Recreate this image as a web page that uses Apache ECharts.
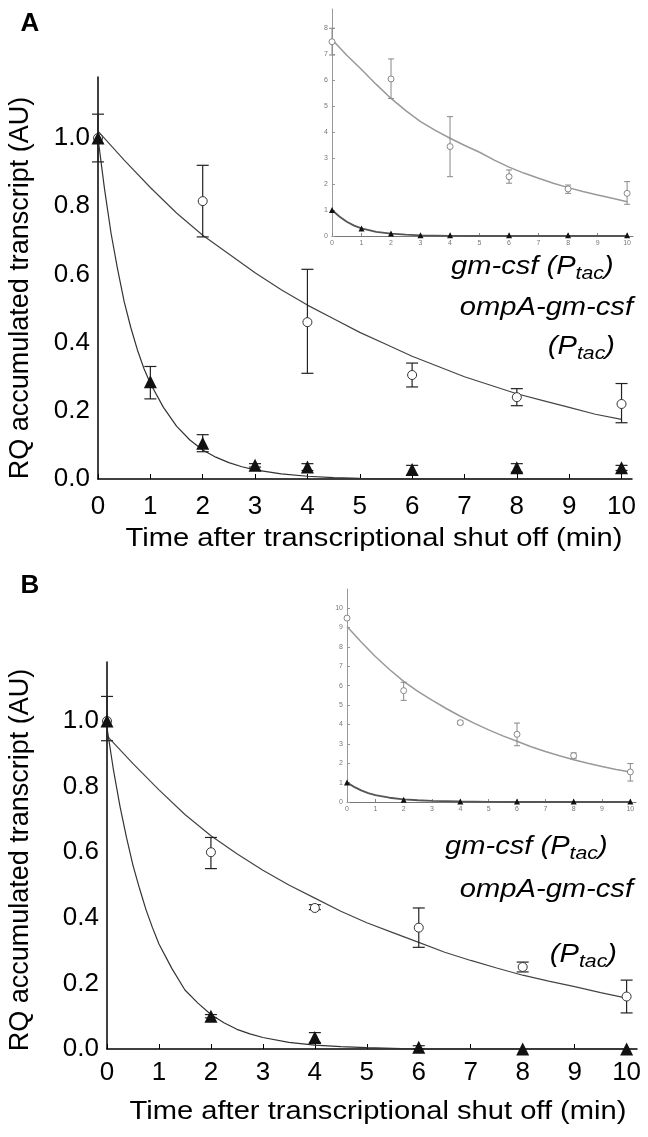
<!DOCTYPE html>
<html>
<head>
<meta charset="utf-8">
<script src="https://cdn.jsdelivr.net/npm/echarts@6/dist/echarts.min.js"></script>
<style>
html,body{margin:0;padding:0;background:#fff;}
#chart{width:648px;height:1137px;}
</style>
</head>
<body>
<div id="chart"></div>
<script>
// ---------- tick labels ----------
const xTicks = [0,1,2,3,4,5,6,7,8,9,10];
const yTicksMain = [0,0.2,0.4,0.6,0.8,1.0];
const yTicksInsetA = [0,1,2,3,4,5,6,7,8];
const yTicksInsetB = [0,1,2,3,4,5,6,7,8,9,10];

// ---------- Panel A, main ----------
const A_circT  = [0,2,4,6,8,10];
const A_circV  = [1.0,0.815,0.46,0.305,0.24,0.22];
const A_circLo = [0.93,0.71,0.31,0.27,0.215,0.165];
const A_circHi = [1.07,0.92,0.615,0.34,0.265,0.28];
const A_triT   = [0,1,2,3,4,6,8,10];
const A_triV   = [1.0,0.285,0.105,0.04,0.035,0.028,0.033,0.033];
const A_triLo  = [1.0,0.235,0.08,0.035,0.025,0.012,0.02,0.025];
const A_triHi  = [1.0,0.33,0.13,0.045,0.045,0.04,0.045,0.04];
const A_fitCircT = [0,0.5,1,1.5,2,2.5,3,3.5,4,4.5,5,5.5,6,6.5,7,7.5,8,8.5,9,9.5,10];
const A_fitCircV = [1.02,0.935,0.855,0.78,0.715,0.66,0.605,0.555,0.51,0.47,0.43,0.395,0.36,0.33,0.30,0.275,0.25,0.23,0.21,0.19,0.175];
const A_fitTriT  = [0,0.125,0.25,0.375,0.5,0.625,0.75,0.875,1,1.25,1.5,1.75,2,2.25,2.5,2.75,3,3.5,4,4.5,5,5.5,6,10];
const A_fitTriV  = [1.0,0.85,0.72,0.615,0.52,0.445,0.38,0.325,0.28,0.21,0.155,0.115,0.085,0.064,0.048,0.036,0.027,0.015,0.008,0.004,0.002,0.001,0,0];

// ---------- Panel A, inset ----------
const Ai_circT  = [0,2,4,6,8,10];
const Ai_circV  = [7.47,6.04,3.44,2.28,1.81,1.64];
const Ai_circLo = [6.96,5.29,2.28,2.03,1.64,1.22];
const Ai_circHi = [7.99,6.81,4.59,2.54,1.96,2.09];
const Ai_triT   = [0,1,2,3,4,6,8,10];
const Ai_triV   = [1.0,0.29,0.10,0.03,0.03,0.03,0.03,0.03];
const Ai_fitCircT = [0,0.5,1,1.5,2,2.5,3,3.5,4,4.5,5,5.5,6,6.5,7,7.5,8,8.5,9,9.5,10];
const Ai_fitCircV = [7.56,6.95,6.4,5.83,5.29,4.82,4.4,4.06,3.76,3.48,3.22,2.92,2.65,2.42,2.22,2.03,1.86,1.71,1.58,1.45,1.32];
const Ai_fitTriT  = [0,0.25,0.5,0.75,1,1.5,2,2.5,3,4,5,10];
const Ai_fitTriV  = [1.0,0.75,0.55,0.4,0.29,0.16,0.09,0.05,0.025,0.008,0,0];

// ---------- Panel B, main ----------
const B_circT  = [0,2,4,6,8,10];
const B_circV  = [1.0,0.60,0.43,0.37,0.25,0.16];
const B_circLo = [0.94,0.55,0.425,0.31,0.235,0.11];
const B_circHi = [1.075,0.645,0.44,0.43,0.265,0.21];
const B_triT   = [0,2,4,6,8,10];
const B_triV   = [1.0,0.10,0.035,0.005,0.0,0.0];
const B_triLo  = [1.0,0.095,0.02,0.0,0.0,0.0];
const B_triHi  = [1.0,0.105,0.05,0.01,0.0,0.0];
const B_fitCircT = [0,0.5,1,1.5,2,2.5,3,3.5,4,4.5,5,5.5,6,6.5,7,7.5,8,8.5,9,9.5,10];
const B_fitCircV = [0.955,0.87,0.79,0.715,0.65,0.595,0.545,0.5,0.46,0.42,0.385,0.355,0.325,0.295,0.27,0.247,0.225,0.207,0.19,0.172,0.155];
const B_fitTriT  = [0,0.125,0.25,0.375,0.5,0.625,0.75,0.875,1,1.25,1.5,1.75,2,2.25,2.5,2.75,3,3.5,4,4.5,5,5.5,6,10];
const B_fitTriV  = [0.98,0.85,0.74,0.645,0.56,0.49,0.425,0.37,0.32,0.245,0.18,0.14,0.105,0.08,0.06,0.046,0.035,0.02,0.012,0.007,0.004,0.002,0,0];

// ---------- Panel B, inset ----------
const Bi_circT  = [0,2,4,6,8,10];
const Bi_circV  = [9.48,5.74,4.09,3.49,2.39,1.55];
const Bi_circLo = [9.48,5.24,4.0,2.9,2.23,1.08];
const Bi_circHi = [9.48,6.17,4.18,4.07,2.53,1.98];
const Bi_triT   = [0,2,4,6,8,10];
const Bi_triV   = [1.01,0.12,0.03,0.03,0.03,0.03];
const Bi_fitCircT = [0,0.5,1,1.5,2,2.5,3,3.5,4,4.5,5,5.5,6,6.5,7,7.5,8,8.5,9,9.5,10];
const Bi_fitCircV = [9.05,8.25,7.5,6.83,6.22,5.7,5.25,4.82,4.42,4.05,3.72,3.41,3.13,2.85,2.6,2.38,2.18,2.0,1.83,1.68,1.55];
const Bi_fitTriT  = [0,0.25,0.5,0.75,1,1.5,2,2.5,3,4,5,6,10];
const Bi_fitTriV  = [1.0,0.78,0.6,0.46,0.35,0.22,0.14,0.09,0.06,0.025,0.01,0,0];

// ---------- helpers ----------
const FONT = '"Liberation Sans", Arial, Helvetica, sans-serif';
const zip = (a,b) => a.map((v,i)=>[v,b[i]]);

function mainX(gi, margin){
  return {type:'value', gridIndex:gi, min:0, max:10.2,
    axisLine:{show:true, onZero:false, lineStyle:{color:'#000', width:1.5}},
    axisTick:{show:true, inside:true, length:5, customValues:xTicks, lineStyle:{color:'#000', width:1}},
    axisLabel:{customValues:xTicks, fontSize:26, color:'#000', fontFamily:FONT, margin:margin},
    splitLine:{show:false}};
}
function mainY(gi, max){
  return {type:'value', gridIndex:gi, min:0, max:max,
    axisLine:{show:true, lineStyle:{color:'#000', width:1.5}},
    axisTick:{show:false},
    axisLabel:{customValues:yTicksMain, fontSize:26, color:'#000', fontFamily:FONT, margin:8,
      formatter:v=>v.toFixed(1)},
    splitLine:{show:false}};
}
function insetX(gi){
  return {type:'value', gridIndex:gi, min:0, max:10.2,
    axisLine:{show:true, onZero:false, lineStyle:{color:'#777', width:1}},
    axisTick:{show:true, inside:true, length:3, customValues:xTicks, lineStyle:{color:'#888'}},
    axisLabel:{customValues:xTicks, fontSize:7, color:'#777', fontFamily:FONT, margin:4},
    splitLine:{show:false}};
}
function insetY(gi, max, ticks){
  return {type:'value', gridIndex:gi, min:0, max:max,
    axisLine:{show:true, lineStyle:{color:'#999', width:1}},
    axisTick:{show:true, inside:true, length:3, customValues:ticks, lineStyle:{color:'#999'}},
    axisLabel:{customValues:ticks, fontSize:7, color:'#777', fontFamily:FONT, margin:4},
    splitLine:{show:false}};
}
function curve(gi, t, v, color, w){
  return {type:'line', xAxisIndex:gi, yAxisIndex:gi, data:zip(t,v), showSymbol:false, symbol:'none',
    smooth:false, lineStyle:{color:color, width:w}, z:2, silent:true, animation:false};
}
function errs(gi, t, lo, hi, cap, color, w){
  return {type:'custom', xAxisIndex:gi, yAxisIndex:gi, z:3, silent:true, animation:false,
    data:t.map((x,i)=>[x, lo[i], hi[i]]), encode:{x:0, y:[1,2]},
    renderItem:function(params, api){
      const x = api.value(0);
      const a = api.coord([x, api.value(1)]);
      const b = api.coord([x, api.value(2)]);
      const st = {stroke:color, lineWidth:w};
      if (Math.abs(a[1]-b[1]) < 0.5) return {type:'group', children:[]};
      return {type:'group', children:[
        {type:'line', shape:{x1:a[0], y1:a[1], x2:b[0], y2:b[1]}, style:st},
        {type:'line', shape:{x1:a[0]-cap, y1:a[1], x2:a[0]+cap, y2:a[1]}, style:st},
        {type:'line', shape:{x1:b[0]-cap, y1:b[1], x2:b[0]+cap, y2:b[1]}, style:st}
      ]};
    }};
}
function circles(gi, t, v, size, color){
  return {type:'scatter', xAxisIndex:gi, yAxisIndex:gi, data:zip(t,v), symbol:'circle', symbolSize:size,
    itemStyle:{color:'#fff', borderColor:color, borderWidth:1, opacity:1}, z:4, silent:true, animation:false};
}
function tris(gi, t, v, size, color){
  return {type:'scatter', xAxisIndex:gi, yAxisIndex:gi, data:zip(t,v), symbol:'triangle', symbolSize:size,
    itemStyle:{color:color, opacity:1}, z:5, silent:true, animation:false};
}
const S = 1.12; // horizontal stretch of text in the figure
function ptac(prefix, x, y, align){
  return {type:'text', x:x, y:y, scaleX:S, z:10, silent:true,
    style:{text:'{i|'+prefix+'(P}{s|tac}{i|)}', align:align, verticalAlign:'middle',
      rich:{
        i:{fontSize:26, fontStyle:'italic', fontFamily:FONT, fill:'#000', lineHeight:32},
        s:{fontSize:19, fontStyle:'italic', fontFamily:FONT, fill:'#000', lineHeight:12, verticalAlign:'bottom'}
      }}};
}
function plain(text, x, y, opts){
  return Object.assign({type:'text', x:x, y:y, z:10, silent:true,
    style:Object.assign({text:text, fontSize:26, fontFamily:FONT, fill:'#000', align:'center', verticalAlign:'middle'}, opts.style||{})},
    opts.el||{});
}

const chart = echarts.init(document.getElementById('chart'), null, {renderer:'canvas'});
chart.setOption({
  animation:false,
  backgroundColor:'#fff',
  grid:[
    {left:98, top:77, width:534, height:402},
    {left:332, top:9, width:301, height:227},
    {left:107, top:662, width:530, height:387},
    {left:347, top:589, width:289, height:213}
  ],
  xAxis:[ mainX(0,15), insetX(1), mainX(2,11), insetX(3) ],
  yAxis:[ mainY(0,1.179), insetY(1,8.73,yTicksInsetA), mainY(2,1.18), insetY(3,10.98,yTicksInsetB) ],
  series:[
    // Panel A main
    curve(0, A_fitCircT, A_fitCircV, '#444', 1.2),
    curve(0, A_fitTriT, A_fitTriV, '#333', 1.2),
    errs(0, A_circT, A_circLo, A_circHi, 6, '#222', 1.2),
    errs(0, A_triT, A_triLo, A_triHi, 6, '#222', 1.2),
    circles(0, A_circT, A_circV, 9, '#333'),
    tris(0, A_triT, A_triV, 13, '#111'),
    // Panel A inset
    curve(1, Ai_fitCircT, Ai_fitCircV, '#999', 1.5),
    curve(1, Ai_fitTriT, Ai_fitTriV, '#555', 1.8),
    errs(1, Ai_circT, Ai_circLo, Ai_circHi, 3, '#888', 1),
    circles(1, Ai_circT, Ai_circV, 6, '#888'),
    tris(1, Ai_triT, Ai_triV, 6, '#111'),
    // Panel B main
    curve(2, B_fitCircT, B_fitCircV, '#444', 1.2),
    curve(2, B_fitTriT, B_fitTriV, '#333', 1.2),
    errs(2, B_circT, B_circLo, B_circHi, 6, '#222', 1.2),
    errs(2, B_triT, B_triLo, B_triHi, 6, '#222', 1.2),
    circles(2, B_circT, B_circV, 9, '#333'),
    tris(2, B_triT, B_triV, 13, '#111'),
    // Panel B inset
    curve(3, Bi_fitCircT, Bi_fitCircV, '#999', 1.5),
    curve(3, Bi_fitTriT, Bi_fitTriV, '#555', 1.8),
    errs(3, Bi_circT, Bi_circLo, Bi_circHi, 3, '#888', 1),
    circles(3, Bi_circT, Bi_circV, 6, '#888'),
    tris(3, Bi_triT, Bi_triV, 6, '#111')
  ],
  graphic:[
    plain('A', 30, 24, {style:{fontWeight:'bold', fontSize:26}}),
    plain('B', 30, 586, {style:{fontWeight:'bold', fontSize:26}}),
    plain('RQ accumulated transcript (AU)', 21, 288, {el:{rotation:Math.PI/2}, style:{fontSize:27}}),
    plain('RQ accumulated transcript (AU)', 21, 860, {el:{rotation:Math.PI/2}, style:{fontSize:27}}),
    plain('Time after transcriptional shut off (min)', 374, 539, {el:{scaleX:S}}),
    plain('Time after transcriptional shut off (min)', 378, 1112, {el:{scaleX:S}}),
    ptac('gm-csf ', 451, 267, 'left'),
    plain('ompA-gm-csf', 633, 308, {el:{scaleX:S}, style:{align:'right', fontStyle:'italic'}}),
    ptac('', 615, 347, 'right'),
    ptac('gm-csf ', 445, 847, 'left'),
    plain('ompA-gm-csf', 633, 890, {el:{scaleX:S}, style:{align:'right', fontStyle:'italic'}}),
    ptac('', 617, 955, 'right')
  ]
});
</script>
</body>
</html>
